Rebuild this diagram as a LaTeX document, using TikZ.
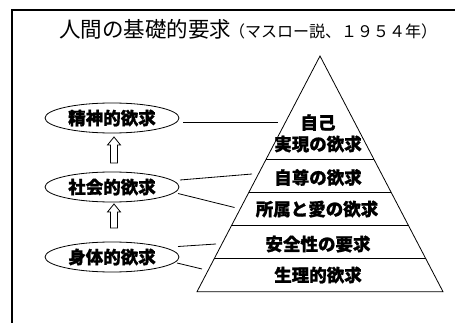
\documentclass[tikz,border=0pt]{standalone}
\usepackage{fontspec}
\newfontfamily\jp{Noto Sans CJK JP}[BoldFeatures={FakeBold=1}]
\usetikzlibrary{shapes.geometric,calc}
\newcommand\hollowarrow[2]{%
  \draw[line width=0.8pt,fill=white,line join=miter]
    ($(#1)+(-3.5,0)$) -- ($(#2)+(-3.5,8)$) -- ($(#2)+(-6.5,8)$) -- (#2)
    -- ($(#2)+(6.5,8)$) -- ($(#2)+(3.5,8)$) -- ($(#1)+(3.5,0)$) -- cycle;}
\begin{document}
\begin{tikzpicture}[x=1pt,y=-1pt,
  lbl/.style={font=\jp\bfseries\fontsize{17.5pt}{21pt}\selectfont, inner sep=0pt},
  need/.style={ellipse, draw, line width=0.8pt, minimum width=134pt, minimum height=30pt,
    inner sep=0pt, font=\jp\bfseries\fontsize{17.5pt}{21pt}\selectfont},
  conn/.style={line width=0.8pt},
  tier/.style={line width=0.8pt}]
\useasboundingbox (0,0) rectangle (455,323);
\fill[white] (0,0) rectangle (455,323);
% frame
\draw[line width=1.6pt] (12,10) rectangle (480,345);
% title
\node[anchor=base west, inner sep=0pt, font=\jp\fontsize{21.5pt}{24pt}\selectfont] (title) at (59,38)
  {人間の基礎的要求};
\node[anchor=base west, inner sep=0pt, font=\jp\fontsize{16pt}{19pt}\selectfont] (subtitle) at (229,38)
  {（マスロー説、１９５４年）};
% pyramid
\coordinate (apex) at (320,56);
\coordinate (bl) at (197,291.7);
\coordinate (br) at (443,291.7);
\draw[tier] (apex) -- (bl) -- (br) -- cycle;
\foreach \t in {0.4387,0.5804,0.7187,0.86}
  \draw[tier] ($(apex)!\t!(bl)$) -- ($(apex)!\t!(br)$);
\node[lbl] (p6a) at (318,122.5) {自己};
\node[lbl] (p6b) at (318,144) {実現の欲求};
\node[lbl] (p5) at (318,177.5) {自尊の欲求};
\node[lbl] (p4) at (317,209) {所属と愛の欲求};
\node[lbl] (p3) at (318,244) {安全性の要求};
\node[lbl] (p2) at (318,275) {生理的欲求};
% ellipses
\node[need] (e1) at (112,118) {精神的欲求};
\node[need] (e2) at (112,187) {社会的欲求};
\node[need] (e3) at (112,257) {身体的欲求};
% hollow arrows
\coordinate (a1b) at (114,163);
\coordinate (a1t) at (114,137);
\coordinate (a2b) at (114,228);
\coordinate (a2t) at (114,204);
\hollowarrow{a1b}{a1t}
\hollowarrow{a2b}{a2t}
% connectors
\coordinate (c1s) at (183,122);   \coordinate (c1e) at (278,122);
\coordinate (c2s) at (180,180);   \coordinate (c2e) at (252,174);
\coordinate (c3s) at (178,193.5); \coordinate (c3e) at (234.5,207.5);
\coordinate (c4s) at (178,246.5); \coordinate (c4e) at (216,244);
\coordinate (c5s) at (177,263);   \coordinate (c5e) at (202,269);
\draw[conn] (c1s) -- (c1e);
\draw[conn] (c2s) -- (c2e);
\draw[conn] (c3s) -- (c3e);
\draw[conn] (c4s) -- (c4e);
\draw[conn] (c5s) -- (c5e);
\end{tikzpicture}
\end{document}
